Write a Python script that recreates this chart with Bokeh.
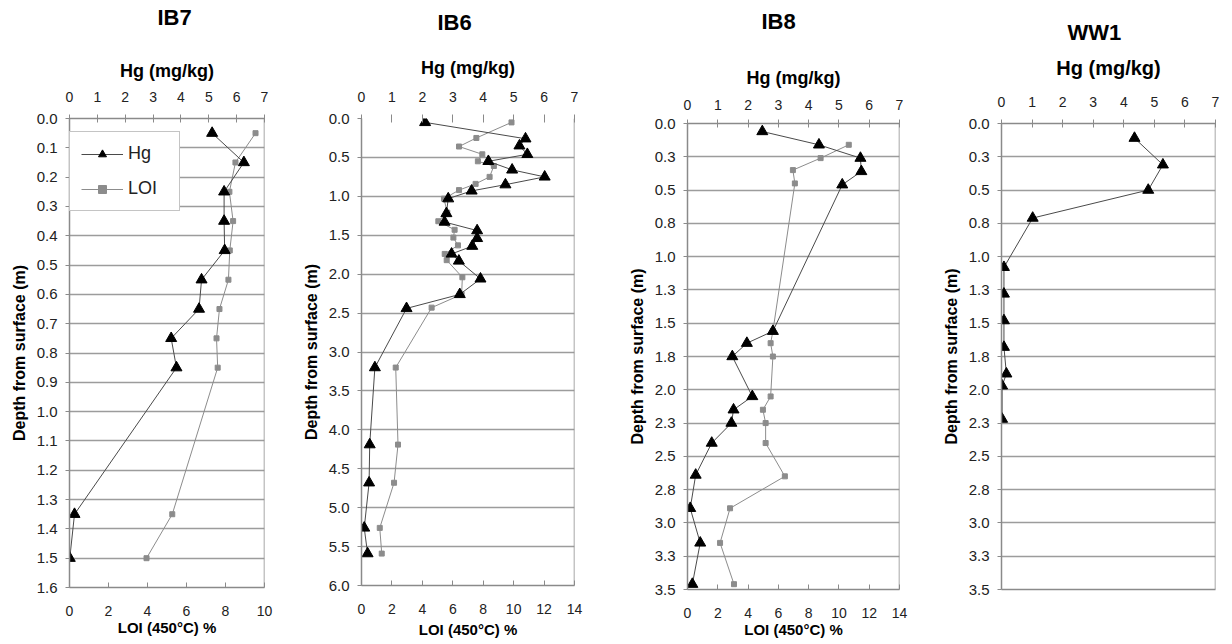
from bokeh.plotting import figure
from bokeh.models import Range1d, LinearAxis, FixedTicker, Span, Legend, LegendItem, Title
from bokeh.layouts import row
from bokeh.embed import file_html
from bokeh.resources import INLINE

FONT = "Liberation Sans"

# ---------------- data ----------------
# IB7
ib7_hg_depth = [0.05, 0.15, 0.25, 0.35, 0.45, 0.55, 0.65, 0.75, 0.85, 1.35, 1.50]
ib7_hg = [5.12, 6.26, 5.55, 5.55, 5.57, 4.74, 4.65, 3.65, 3.84, 0.18, 0.01]
ib7_loi_depth = [0.05, 0.15, 0.25, 0.35, 0.45, 0.55, 0.65, 0.75, 0.85, 1.35, 1.50]
ib7_loi = [9.54, 8.51, 8.20, 8.39, 8.22, 8.15, 7.69, 7.54, 7.60, 5.27, 3.95]

# IB6
ib6_hg_depth = [0.05, 0.26, 0.35, 0.46, 0.55, 0.66, 0.75, 0.85, 0.93, 1.03, 1.22, 1.33,
                1.44, 1.54, 1.64, 1.74, 1.83, 2.06, 2.26, 2.44, 3.20, 4.19, 4.68, 5.26, 5.59]
ib6_hg = [2.09, 5.39, 5.19, 5.45, 4.17, 4.95, 6.02, 4.73, 3.62, 2.85, 2.79, 2.73,
          3.80, 3.80, 3.64, 2.96, 3.20, 3.91, 3.23, 1.48, 0.44, 0.27, 0.25, 0.09, 0.20]
ib6_loi_depth = [0.05, 0.25, 0.36, 0.46, 0.55, 0.61, 0.75, 0.84, 0.92, 1.03, 1.21, 1.32,
                 1.43, 1.53, 1.63, 1.74, 1.82, 2.04, 2.26, 2.43, 3.20, 4.19, 4.68, 5.26, 5.59]
ib6_loi = [9.86, 7.55, 6.41, 7.94, 7.65, 8.70, 8.42, 7.50, 6.41, 5.42, 5.64, 5.05,
           6.12, 6.04, 6.34, 5.47, 5.60, 6.63, 6.58, 4.61, 2.25, 2.40, 2.14, 1.20, 1.33]

# IB8
ib8_hg_depth = [0.06, 0.16, 0.26, 0.36, 0.46, 1.56, 1.65, 1.75, 2.05, 2.15, 2.25, 2.40,
                2.64, 2.89, 3.15, 3.46]
ib8_hg = [2.47, 4.34, 5.71, 5.74, 5.11, 2.82, 1.96, 1.48, 2.14, 1.52, 1.45, 0.80,
          0.27, 0.09, 0.42, 0.16]
ib8_loi_depth = [0.16, 0.26, 0.35, 0.45, 1.56, 1.65, 1.75, 2.05, 2.15, 2.25, 2.40, 2.65,
                 2.89, 3.15, 3.46]
ib8_loi = [10.65, 8.79, 6.96, 7.09, 5.64, 5.49, 5.64, 5.49, 4.98, 5.16, 5.16, 6.43,
           2.81, 2.15, 3.07]

# WW1
ww1_hg_depth = [0.11, 0.31, 0.50, 0.71, 1.08, 1.28, 1.48, 1.68, 1.88, 1.97, 2.22]
ww1_hg = [4.35, 5.28, 4.80, 1.02, 0.08, 0.08, 0.08, 0.08, 0.16, 0.02, 0.02]

# ticks / labels
hg_ticks = [0, 1, 2, 3, 4, 5, 6, 7]
hg_labels = ["0", "1", "2", "3", "4", "5", "6", "7"]
loi10_ticks = [0, 2, 4, 6, 8, 10]
loi14_ticks = [0, 2, 4, 6, 8, 10, 12, 14]

ib7_y_ticks = [0.0, 0.1, 0.2, 0.3, 0.4, 0.5, 0.6, 0.7, 0.8, 0.9, 1.0, 1.1, 1.2, 1.3, 1.4, 1.5, 1.6]
ib7_y_labels = ["0.0", "0.1", "0.2", "0.3", "0.4", "0.5", "0.6", "0.7", "0.8", "0.9",
                "1.0", "1.1", "1.2", "1.3", "1.4", "1.5", "1.6"]
ib6_y_ticks = [0.0, 0.5, 1.0, 1.5, 2.0, 2.5, 3.0, 3.5, 4.0, 4.5, 5.0, 5.5, 6.0]
ib6_y_labels = ["0.0", "0.5", "1.0", "1.5", "2.0", "2.5", "3.0", "3.5", "4.0", "4.5",
                "5.0", "5.5", "6.0"]
q_y_ticks = [0.0, 0.25, 0.5, 0.75, 1.0, 1.25, 1.5, 1.75, 2.0, 2.25, 2.5, 2.75, 3.0, 3.25, 3.5]
q_y_labels = ["0.0", "0.3", "0.5", "0.8", "1.0", "1.3", "1.5", "1.8", "2.0", "2.3", "2.5",
              "2.8", "3.0", "3.3", "3.5"]

GRID = "#9c9c9c"
AX = "#8a8a8a"
TXT = "#222222"
HG_LINE = "#4a4a4a"
LOI_COL = "#8c8c8c"
H = 644


def panel(title, width, bl, br, bt, bb, y_end, y_ticks, y_labels, loi_end, loi_ticks,
          title_offset, title_gap, hg_label_size, hg_label_standoff, hg_tick_standoff,
          loi_tick_standoff=14, loi_label_standoff=5, depth_standoff=6,
          top_line=True, show_loi_axis=True):
    p = figure(width=width, height=H, x_range=Range1d(0, 7), y_range=Range1d(y_end, 0),
               x_axis_location="above", title=None,
               output_backend="svg", toolbar_location=None,
               min_border_left=bl, min_border_right=br, min_border_top=bt, min_border_bottom=bb)
    p.frame_align = False
    p.outline_line_color = None
    p.background_fill_color = "white"
    p.border_fill_color = "white"

    ax = p.xaxis[0]
    ax.ticker = FixedTicker(ticks=hg_ticks)
    ax.major_label_overrides = {k: v for k, v in zip(hg_ticks, hg_labels)}
    ax.axis_label = "Hg (mg/kg)"
    ax.axis_label_text_font = FONT
    ax.axis_label_text_font_size = hg_label_size
    ax.axis_label_text_font_style = "bold"
    ax.axis_label_text_color = "black"
    ax.axis_label_standoff = hg_label_standoff
    ax.major_label_text_font = FONT
    ax.major_label_text_font_size = "14px"
    ax.major_label_text_color = TXT
    ax.major_label_standoff = hg_tick_standoff
    ax.major_tick_in = 4
    ax.major_tick_out = 4
    ax.minor_tick_line_color = None
    ax.axis_line_color = AX if top_line else None
    ax.major_tick_line_color = AX
    ax.axis_line_width = 1.5

    # blank spacer between the Hg axis and the panel title (white tick only)
    spacer = LinearAxis(ticker=FixedTicker(ticks=[7]), major_label_overrides={7: ""},
                        axis_line_color=None, major_tick_line_color="white",
                        minor_tick_line_color=None, major_tick_out=title_gap,
                        major_tick_in=0, major_label_standoff=0,
                        major_label_text_font_size="1px")
    p.add_layout(spacer, "above")

    p.add_layout(Title(text=title, align="left", offset=title_offset, standoff=0,
                       text_font=FONT, text_font_size="22px", text_font_style="bold",
                       text_color="black"), "above")

    ay = p.yaxis[0]
    ay.ticker = FixedTicker(ticks=y_ticks)
    ay.major_label_overrides = {k: v for k, v in zip(y_ticks, y_labels)}
    ay.axis_label = "Depth from surface (m)"
    ay.axis_label_text_font = FONT
    ay.axis_label_text_font_size = "16px"
    ay.axis_label_text_font_style = "bold"
    ay.axis_label_text_color = "black"
    ay.axis_label_standoff = depth_standoff
    ay.major_label_text_font = FONT
    ay.major_label_text_font_size = "15px"
    ay.major_label_text_color = TXT
    ay.major_label_standoff = 8
    ay.major_tick_in = 0
    ay.major_tick_out = 4
    ay.minor_tick_line_color = None
    ay.axis_line_color = AX
    ay.major_tick_line_color = AX
    ay.axis_line_width = 1.5

    p.xgrid.visible = False
    p.ygrid.ticker = FixedTicker(ticks=y_ticks[1:-1])
    p.ygrid.grid_line_color = GRID
    p.ygrid.grid_line_width = 1.5

    p.extra_x_ranges = {"loi": Range1d(0, loi_end)}
    lax = LinearAxis(x_range_name="loi", ticker=FixedTicker(ticks=loi_ticks if show_loi_axis else []))
    lax.minor_tick_line_color = None
    lax.axis_line_color = AX
    lax.axis_line_width = 1.5
    lax.major_tick_line_color = AX
    lax.major_tick_in = 5
    lax.major_tick_out = 0
    if show_loi_axis:
        lax.axis_label = "LOI (450°C) %"
        lax.axis_label_text_font = FONT
        lax.axis_label_text_font_size = "15px"
        lax.axis_label_text_font_style = "bold"
        lax.axis_label_text_color = "black"
        lax.axis_label_standoff = loi_label_standoff
        lax.major_label_text_font = FONT
        lax.major_label_text_font_size = "14px"
        lax.major_label_text_color = TXT
        lax.major_label_standoff = loi_tick_standoff
    else:
        lax.major_label_text_font_size = "0px"
    p.add_layout(lax, "below")

    p.add_layout(Span(location=7, dimension="height", line_color=AX, line_width=1.5))
    return p


def add_series(p, hg_depth, hg, loi_depth=None, loi=None):
    items = []
    if loi is not None:
        ll = p.line(loi, loi_depth, x_range_name="loi", line_color=LOI_COL, line_width=1)
        ls = p.scatter(loi, loi_depth, x_range_name="loi", marker="square", size=5,
                       fill_color=LOI_COL, line_color=LOI_COL)
        items.append(LegendItem(label="LOI", renderers=[ll, ls]))
    hl = p.line(hg, hg_depth, line_color=HG_LINE, line_width=1)
    hs = p.scatter(hg, hg_depth, marker="triangle", size=11, fill_color="black",
                   line_color="black")
    items.insert(0, LegendItem(label="Hg", renderers=[hl, hs]))
    return items


p1 = panel("IB7", 297, 69, 33, 118, 57, 1.6, ib7_y_ticks, ib7_y_labels, 10, loi10_ticks,
           title_offset=88, title_gap=28, hg_label_size="18px", hg_label_standoff=8,
           hg_tick_standoff=13, loi_tick_standoff=18, loi_label_standoff=0)
items = add_series(p1, ib7_hg_depth, ib7_hg, ib7_loi_depth, ib7_loi)
leg = Legend(items=items, location=(0, 376), orientation="vertical")
leg.label_text_font = FONT
leg.label_text_font_size = "18px"
leg.label_text_color = TXT
leg.glyph_width = 42
leg.glyph_height = 20
leg.label_width = 40
leg.spacing = 14
leg.padding = 11
leg.margin = 0
leg.label_standoff = 5
leg.border_line_color = AX
leg.border_line_width = 1.5
leg.background_fill_color = "white"
leg.background_fill_alpha = 1
p1.add_layout(leg, "center")

p2 = panel("IB6", 313, 64, 36, 118, 59, 6.0, ib6_y_ticks, ib6_y_labels, 14, loi14_ticks,
           title_offset=76, title_gap=20, hg_label_size="18px", hg_label_standoff=11,
           hg_tick_standoff=13, loi_tick_standoff=18, loi_label_standoff=4,
           top_line=False)
add_series(p2, ib6_hg_depth, ib6_hg, ib6_loi_depth, ib6_loi)

p3 = panel("IB8", 315, 77, 26, 123, 55, 3.5, q_y_ticks, q_y_labels, 14, loi14_ticks,
           title_offset=74, title_gap=31, hg_label_size="18px", hg_label_standoff=9,
           hg_tick_standoff=10, loi_tick_standoff=18, loi_label_standoff=0)
add_series(p3, ib8_hg_depth, ib8_hg, ib8_loi_depth, ib8_loi)

p4 = panel("WW1", 307, 76, 17, 123, 55, 3.5, q_y_ticks, q_y_labels, 14, loi14_ticks,
           title_offset=66, title_gap=9, hg_label_size="20px", hg_label_standoff=15,
           hg_tick_standoff=13, show_loi_axis=False)
add_series(p4, ww1_hg_depth, ww1_hg)

layout = row(p1, p2, p3, p4)
open("out.html", "w").write(file_html(layout, INLINE))
